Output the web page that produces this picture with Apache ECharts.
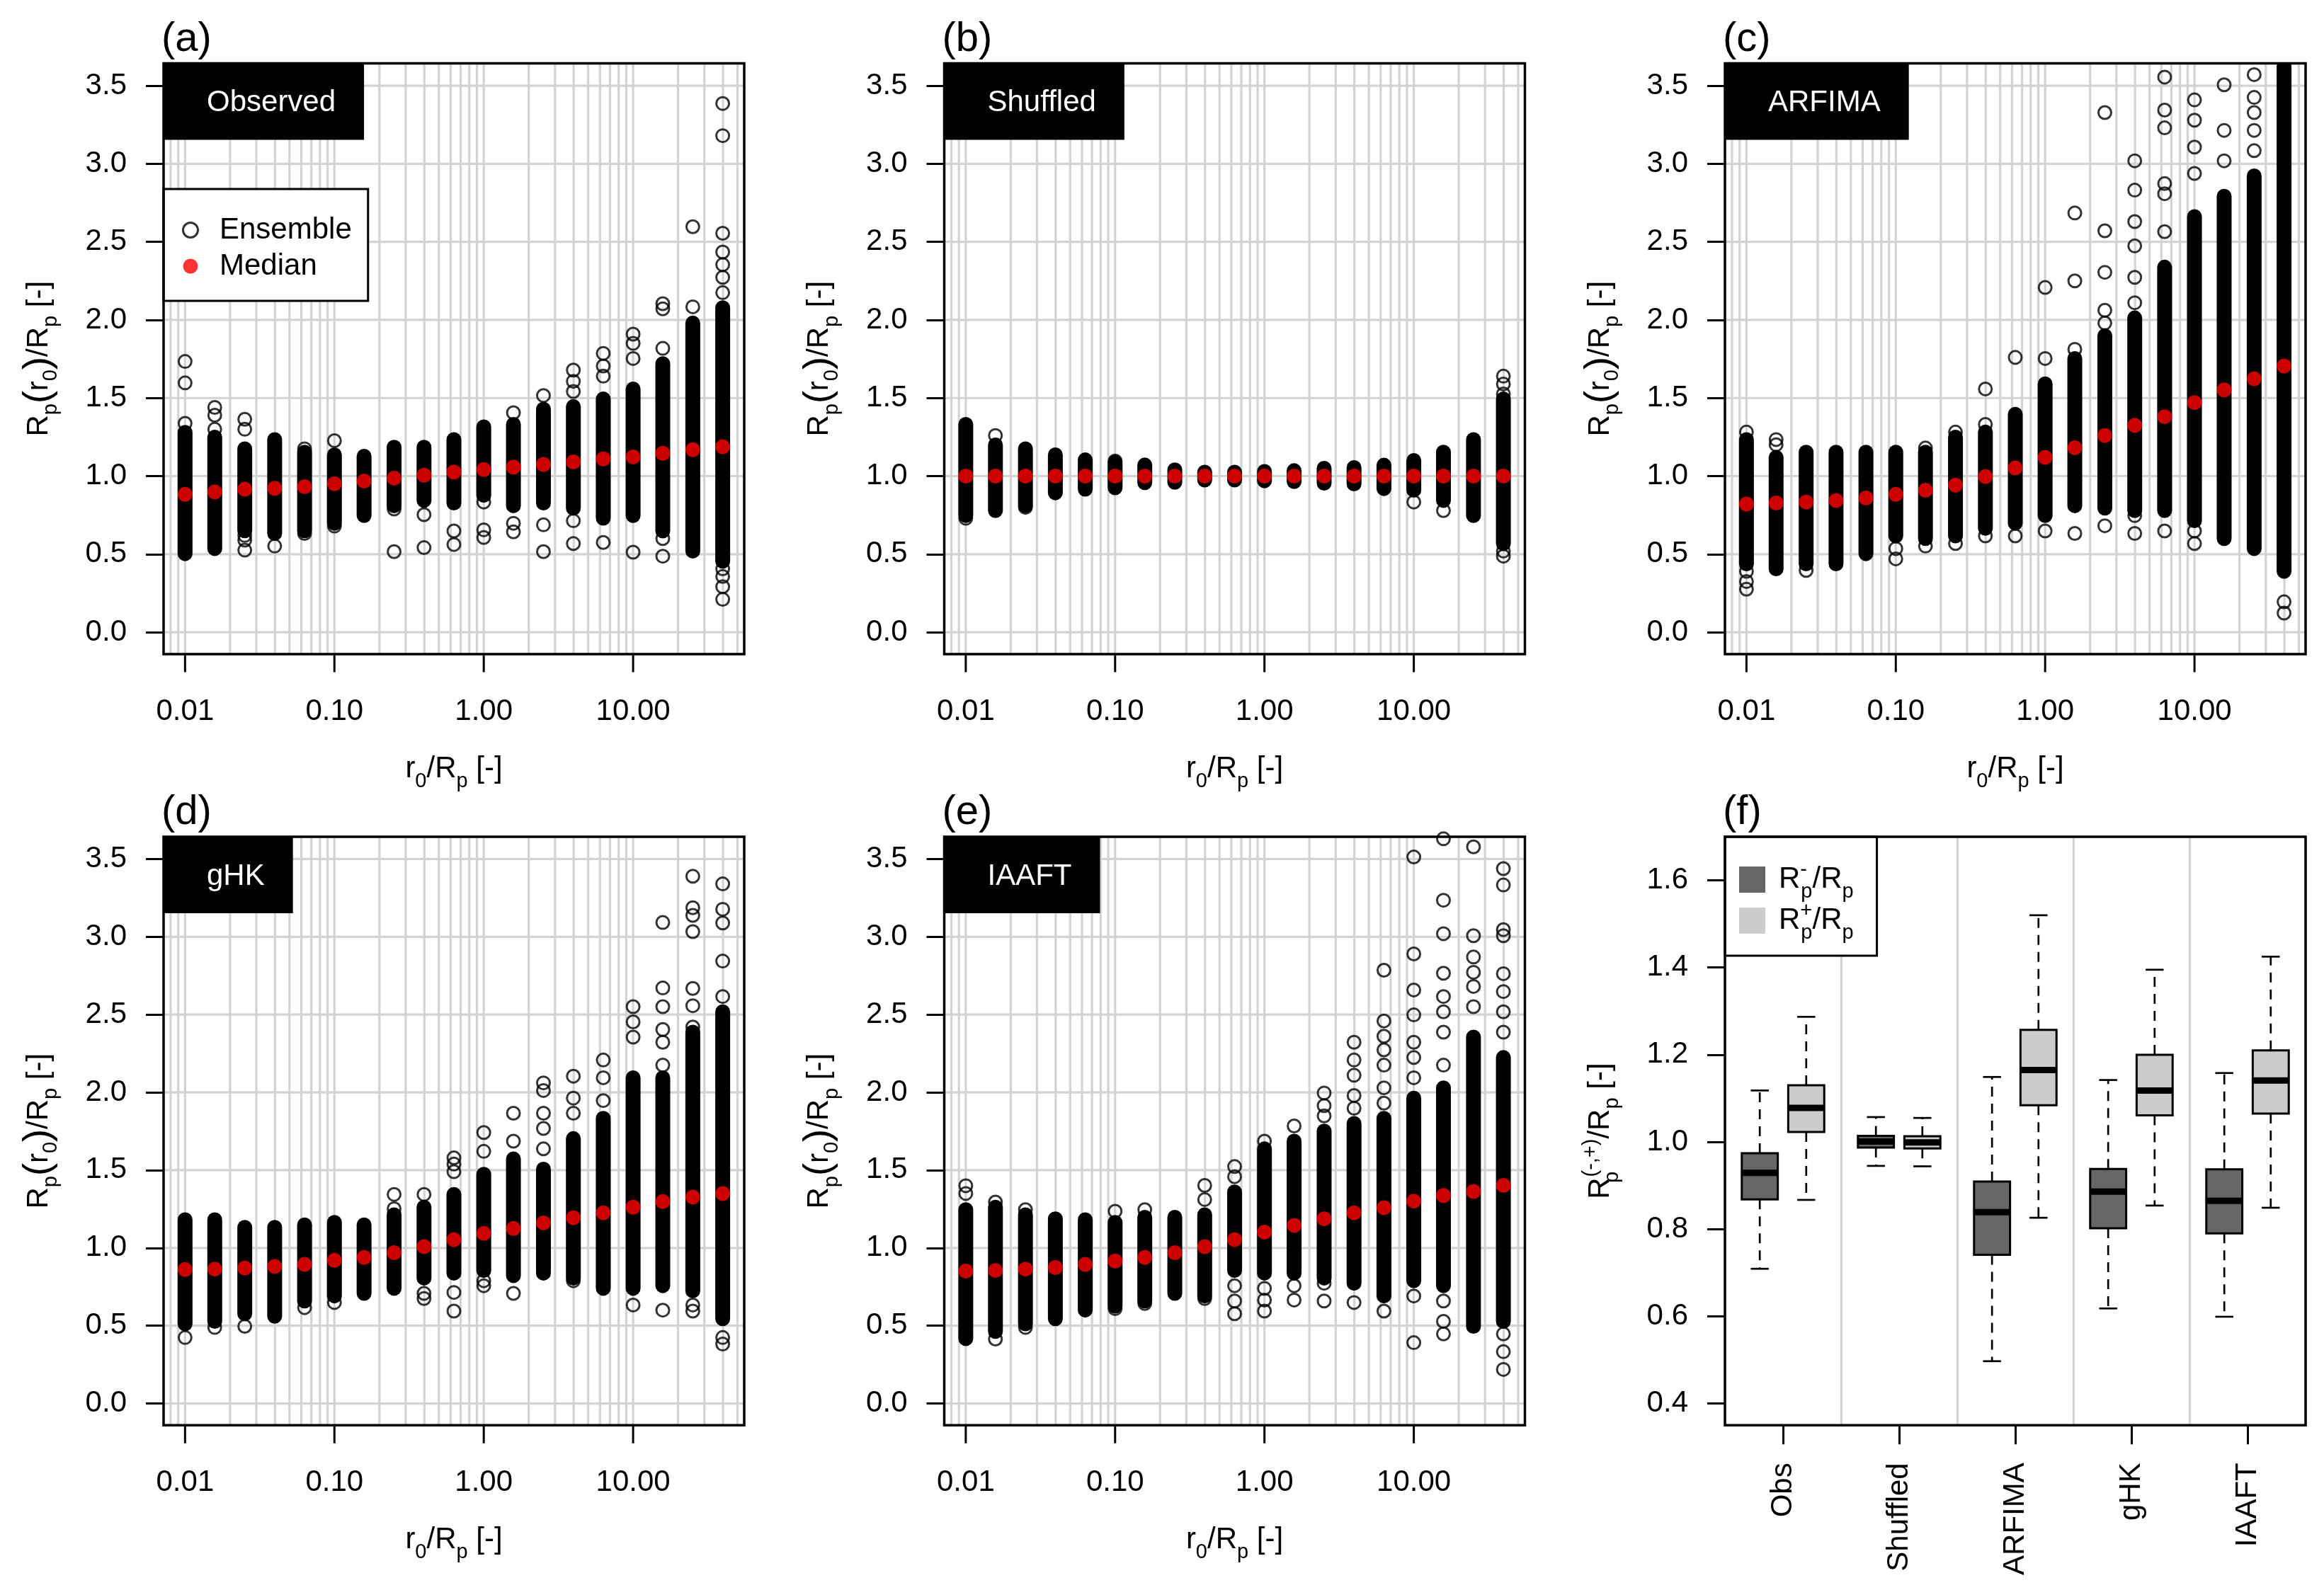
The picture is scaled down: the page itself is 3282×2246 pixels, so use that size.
<!DOCTYPE html>
<html>
<head>
<meta charset="utf-8">
<title>Rp(r0)/Rp ensembles</title>
<script src="https://cdn.jsdelivr.net/npm/echarts@6.0.0/dist/echarts.min.js"></script>
<style>
html, body { margin: 0; padding: 0; background: #fff; }
#chart { width: 3282px; height: 2246px; }
</style>
</head>
<body>
<div id="chart"></div>
<script>
// ---------------- data ----------------
const xValues = [0.01, 0.0158, 0.0251, 0.0398, 0.0631, 0.1, 0.158, 0.251, 0.398, 0.631, 1, 1.58, 2.51, 3.98, 6.31, 10, 15.8, 25.1, 39.8];
const xTickValues = [0.01, 0.1, 1, 10];
const xTickLabels = ['0.01', '0.10', '1.00', '10.00'];
const yTickValues = [0, 0.5, 1, 1.5, 2, 2.5, 3, 3.5];
const yTickLabels = ['0.0', '0.5', '1.0', '1.5', '2.0', '2.5', '3.0', '3.5'];
const gridXLines = [0.008, 0.009, 0.01, 0.02, 0.03, 0.04, 0.05, 0.06, 0.07, 0.08, 0.09, 0.1, 0.2, 0.3, 0.4, 0.5, 0.6, 0.7, 0.8, 0.9, 1, 2, 3, 4, 5, 6, 7, 8, 9, 10, 20, 30, 40, 50];
const gridYLines = [0, 0.5, 1, 1.5, 2, 2.5, 3, 3.5];
const panelTags = ['(a)', '(b)', '(c)', '(d)', '(e)', '(f)'];
const panelNames = ['Observed', 'Shuffled', 'ARFIMA', 'gHK', 'IAAFT'];

// (a) Observed: dense core range, median and isolated ensemble members per r0/Rp
const obsLow = [0.503, 0.536, 0.65, 0.633, 0.65, 0.698, 0.747, 0.81, 0.844, 0.828, 0.877, 0.81, 0.828, 0.795, 0.73, 0.747, 0.649, 0.52, 0.455];
const obsHigh = [1.28, 1.25, 1.175, 1.234, 1.153, 1.136, 1.127, 1.185, 1.185, 1.234, 1.315, 1.331, 1.429, 1.445, 1.494, 1.558, 1.72, 1.98, 2.078];
const obsMedian = [0.883, 0.899, 0.916, 0.922, 0.932, 0.951, 0.968, 0.987, 1.006, 1.026, 1.042, 1.058, 1.075, 1.091, 1.11, 1.123, 1.146, 1.169, 1.188];
const obsSparse = [[1.338, 1.597, 1.734], [1.30, 1.39, 1.44], [0.526, 0.59, 0.62, 1.30, 1.364], [0.552], [0.633, 1.175], [0.68, 1.227], [], [0.516, 0.789], [0.542, 0.753], [0.562, 0.649], [0.607, 0.656, 0.834], [0.643, 0.698, 1.406], [0.516, 0.688, 1.516], [0.568, 0.714, 1.542, 1.607, 1.679], [0.575, 1.64, 1.705, 1.786], [0.513, 1.753, 1.85, 1.909], [0.487, 0.6, 1.818, 2.071, 2.104], [2.084, 2.597], [0.211, 0.292, 0.357, 0.406, 2.175, 2.273, 2.354, 2.435, 2.555, 3.18, 3.386]];

// (b) Shuffled
const shufLow = [0.747, 0.779, 0.81, 0.893, 0.916, 0.925, 0.958, 0.96, 0.975, 0.975, 0.97, 0.965, 0.955, 0.95, 0.92, 0.91, 0.844, 0.747, 0.568];
const shufHigh = [1.331, 1.20, 1.175, 1.136, 1.104, 1.088, 1.071, 1.04, 1.025, 1.025, 1.03, 1.035, 1.05, 1.055, 1.07, 1.10, 1.153, 1.234, 1.494];
const shufMedian = [1.0, 1.0, 1.0, 1.0, 1.0, 1.0, 1.0, 1.0, 1.0, 1.0, 1.0, 1.0, 1.0, 1.0, 1.0, 1.0, 1.0, 1.0, 1.0];
const shufSparse = [[0.73], [1.26], [0.80], [], [], [1.097], [], [], [], [], [], [], [], [], [], [0.834], [0.779], [], [0.487, 0.52, 1.526, 1.59, 1.64]];

// (c) ARFIMA
const arfLow = [0.438, 0.406, 0.438, 0.438, 0.503, 0.617, 0.60, 0.617, 0.666, 0.698, 0.747, 0.81, 0.795, 0.779, 0.779, 0.714, 0.60, 0.536, 0.39];
const arfHigh = [1.234, 1.12, 1.153, 1.153, 1.153, 1.153, 1.153, 1.25, 1.282, 1.396, 1.591, 1.753, 1.899, 2.013, 2.338, 2.662, 2.792, 2.922, 3.62];
const arfMedian = [0.821, 0.828, 0.834, 0.844, 0.86, 0.883, 0.909, 0.942, 0.997, 1.052, 1.12, 1.182, 1.26, 1.325, 1.38, 1.471, 1.552, 1.623, 1.705];
const arfSparse = [[0.276, 0.325, 0.39, 1.282], [1.201, 1.234], [0.396], [], [], [0.47, 0.536], [0.552, 1.18], [0.568, 1.282], [0.617, 1.331, 1.558], [0.617, 1.76], [0.649, 1.753, 2.208], [0.633, 1.812, 2.25, 2.685], [0.682, 1.98, 2.062, 2.305, 2.571, 3.328], [0.633, 0.747, 2.11, 2.273, 2.474, 2.63, 2.831, 3.019], [0.649, 2.565, 2.808, 2.873, 3.23, 3.344, 3.555], [0.568, 0.649, 2.938, 3.107, 3.279, 3.409], [3.019, 3.214, 3.506], [3.084, 3.214, 3.328, 3.425, 3.571], [0.123, 0.195]];

// (d) gHK
const ghkLow = [0.512, 0.528, 0.577, 0.561, 0.659, 0.691, 0.708, 0.74, 0.806, 0.838, 0.855, 0.822, 0.838, 0.806, 0.74, 0.74, 0.757, 0.724, 0.545];
const ghkHigh = [1.181, 1.181, 1.132, 1.132, 1.148, 1.164, 1.148, 1.213, 1.262, 1.344, 1.474, 1.572, 1.507, 1.703, 1.833, 2.094, 2.094, 2.387, 2.518];
const ghkMedian = [0.861, 0.864, 0.871, 0.881, 0.894, 0.92, 0.939, 0.969, 1.008, 1.053, 1.093, 1.125, 1.161, 1.194, 1.226, 1.262, 1.298, 1.327, 1.35];
const ghkSparse = [[0.424], [0.489], [0.496], [], [0.616], [0.649], [], [1.252, 1.344], [0.675, 0.708, 1.344], [0.594, 0.714, 1.49, 1.539, 1.579], [0.757, 0.789, 1.621, 1.742], [0.708, 1.686, 1.866], [1.637, 1.768, 1.866, 2.012, 2.061], [0.789, 1.866, 1.963, 2.104], [1.947, 2.094, 2.208], [0.633, 2.355, 2.453, 2.551], [0.6, 2.175, 2.322, 2.404, 2.551, 2.671, 3.092], [0.594, 0.633, 2.42, 2.557, 2.668, 3.033, 3.138, 3.187, 3.389], [0.382, 0.424, 2.616, 2.844, 3.089, 3.177, 3.34]];

// (e) IAAFT
const iaaftLow = [0.417, 0.463, 0.512, 0.545, 0.6, 0.626, 0.659, 0.708, 0.691, 0.855, 0.838, 0.838, 0.806, 0.773, 0.691, 0.789, 0.757, 0.496, 0.528];
const iaaftHigh = [1.246, 1.262, 1.213, 1.187, 1.181, 1.164, 1.197, 1.197, 1.213, 1.36, 1.637, 1.686, 1.751, 1.8, 1.833, 1.963, 2.029, 2.355, 2.224];
const iaaftMedian = [0.851, 0.855, 0.864, 0.874, 0.894, 0.916, 0.939, 0.969, 1.008, 1.053, 1.102, 1.145, 1.187, 1.226, 1.259, 1.301, 1.337, 1.363, 1.402];
const iaaftSparse = [[1.35, 1.40], [0.414, 1.295], [0.489, 1.246], [], [], [0.61, 1.236], [0.643, 1.246], [], [0.675, 1.311, 1.402], [0.577, 0.659, 0.757, 1.458, 1.523], [0.594, 0.665, 0.74, 1.686], [0.665, 0.757, 1.784], [0.659, 0.773, 1.849, 1.915, 1.996], [0.649, 1.898, 1.98, 2.11, 2.208, 2.322], [0.594, 1.931, 2.029, 2.175, 2.273, 2.361, 2.459, 2.785], [0.391, 0.691, 2.094, 2.224, 2.322, 2.498, 2.658, 2.89, 3.513], [0.447, 0.528, 0.659, 2.175, 2.387, 2.518, 2.616, 2.766, 3.02, 3.235, 3.63], [2.551, 2.681, 2.772, 2.87, 3.007, 3.578], [0.219, 0.333, 0.447, 2.387, 2.518, 2.648, 2.763, 3.007, 3.046, 3.333, 3.438]];

// (f) box plots: [lower whisker, Q1, median, Q3, upper whisker]
const boxCategories = ['Obs', 'Shuffled', 'ARFIMA', 'gHK', 'IAAFT'];
const rMinusStats = [[0.709, 0.868, 0.929, 0.974, 1.118], [0.945, 0.987, 1.001, 1.014, 1.057], [0.497, 0.741, 0.839, 0.909, 1.149], [0.618, 0.802, 0.886, 0.938, 1.142], [0.599, 0.790, 0.865, 0.937, 1.158]];
const rPlusStats = [[0.867, 1.023, 1.078, 1.130, 1.287], [0.944, 0.985, 0.999, 1.013, 1.055], [0.826, 1.084, 1.165, 1.257, 1.520], [0.854, 1.061, 1.118, 1.200, 1.395], [0.849, 1.065, 1.141, 1.210, 1.425]];
const boxTickValues = [0.4, 0.6, 0.8, 1.0, 1.2, 1.4, 1.6];
const boxTickLabels = ['0.4', '0.6', '0.8', '1.0', '1.2', '1.4', '1.6'];

// ---------------- styling / layout ----------------
const FONT = '"Liberation Sans", Arial, Helvetica, sans-serif';
const FS = 42;
const GRID_COLOR = '#d3d3d3';
const POINT_OUTER = 21;
const colLeft = [231, 1333.5, 2436];
const rowTop = [89.5, 1182];
const plotW = 820;
const plotH = [834.5, 831.3];
const X_MIN = 0.007178, X_MAX = 55.46;
const Y_MIN = -0.14, Y_MAX = 3.643;

const RICH = {
  m: { fontSize: FS, lineHeight: 50, color: '#000', fontFamily: FONT },
  b: { fontSize: 54, lineHeight: 50, color: '#000', fontFamily: FONT },
  s: { fontSize: 29, lineHeight: 20, padding: [34, 0, 0, 0], color: '#000', fontFamily: FONT },
  sz: { fontSize: 29, lineHeight: 20, padding: [34, 0, 0, 0], width: 1, color: '#000', fontFamily: FONT },
  u: { fontSize: 29, lineHeight: 20, padding: [0, 0, 27, 0], color: '#000', fontFamily: FONT },
  uz: { fontSize: 29, lineHeight: 20, padding: [0, 0, 27, 0], width: 1, color: '#000', fontFamily: FONT }
};
const X_NAME = '{m|r}{s|0}{m|/R}{s|p}{m| [-]}';
const Y_NAME = '{m|R}{s|p}{b|(}{m|r}{s|0}{b|)}{m|/R}{s|p}{m| [-]}';
const F_Y_NAME = '{m|R}{sz|p}{u|(-,+)}{m|/R}{s|p}{m| [-]}';

function lookupLabel(values, labels, v) {
  for (let i = 0; i < values.length; i++) {
    if (Math.abs(values[i] - v) <= 1e-9 * Math.max(1, Math.abs(values[i]))) return labels[i];
  }
  if (v > 0) {
    for (let i = 0; i < values.length; i++) {
      if (Math.abs(Math.log10(values[i]) - Math.log10(v)) < 1e-6) return labels[i];
    }
  }
  return '';
}

const scatterPanels = [
  { low: obsLow, high: obsHigh, median: obsMedian, sparse: obsSparse, ens: 'Ensemble', med: 'Median' },
  { low: shufLow, high: shufHigh, median: shufMedian, sparse: shufSparse, ens: 'Ensemble (b)', med: 'Median (b)' },
  { low: arfLow, high: arfHigh, median: arfMedian, sparse: arfSparse, ens: 'Ensemble (c)', med: 'Median (c)' },
  { low: ghkLow, high: ghkHigh, median: ghkMedian, sparse: ghkSparse, ens: 'Ensemble (d)', med: 'Median (d)' },
  { low: iaaftLow, high: iaaftHigh, median: iaaftMedian, sparse: iaaftSparse, ens: 'Ensemble (e)', med: 'Median (e)' }
];

const tickLine = { color: '#000', width: 3 };
const grids = [], xAxes = [], yAxes = [], series = [], titles = [], graphics = [];

function vLineRender(params, api) {
  const x = api.coord([api.value(0), api.value(1)])[0];
  const cs = params.coordSys;
  return { type: 'line', silent: true, shape: { x1: x, y1: cs.y, x2: x, y2: cs.y + cs.height }, style: { stroke: GRID_COLOR, lineWidth: 3.2 } };
}
function hLineRender(params, api) {
  const y = api.coord([api.value(0), api.value(1)])[1];
  const cs = params.coordSys;
  return { type: 'line', silent: true, shape: { x1: cs.x, y1: y, x2: cs.x + cs.width, y2: y }, style: { stroke: GRID_COLOR, lineWidth: 3.2 } };
}
// x-axis tick marks, placed through the log axis, hanging below the plot frame
function xTickRender(params, api) {
  const x = api.coord([api.value(0), api.value(1)])[0];
  const cs = params.coordSys;
  const y0 = cs.y + cs.height + 1.5;
  return { type: 'line', silent: true, shape: { x1: x, y1: y0, x2: x, y2: y0 + 24 }, style: { stroke: '#000', lineWidth: 3 } };
}
function denseRender(params, api) {
  const x = api.value(0);
  const pLo = api.coord([x, api.value(1)]);
  const pHi = api.coord([x, api.value(2)]);
  const r = POINT_OUTER / 2;
  return { type: 'rect', silent: true, shape: { x: pLo[0] - r, y: pHi[1] - r, width: 2 * r, height: pLo[1] - pHi[1] + 2 * r, r: r }, style: { fill: '#000' } };
}

scatterPanels.forEach(function (p, i) {
  const row = Math.floor(i / 3), col = i % 3;
  const left = colLeft[col], top = rowTop[row], h = plotH[row];
  grids.push({ left: left, top: top, width: plotW, height: h, show: false, containLabel: false, outerBoundsMode: 'none' });
  xAxes.push({
    gridIndex: i, type: 'log', logBase: 10, min: X_MIN, max: X_MAX, offset: 1.5, position: 'bottom',
    axisLine: { show: false, onZero: false }, splitLine: { show: false }, minorTick: { show: false }, minorSplitLine: { show: false },
    axisTick: { show: false },
    axisLabel: { customValues: xTickValues, formatter: function (v) { return lookupLabel(xTickValues, xTickLabels, v); }, fontSize: FS, color: '#000', fontFamily: FONT, margin: 59, lineHeight: 42 },
    name: X_NAME, nameLocation: 'middle', nameGap: 136, nameMoveOverlap: false,
    nameTextStyle: { rich: RICH, fontSize: FS, color: '#000', fontFamily: FONT }
  });
  yAxes.push({
    gridIndex: i, type: 'value', min: Y_MIN, max: Y_MAX, offset: 0, position: 'left',
    axisLine: { show: false, onZero: false }, splitLine: { show: false },
    axisTick: { show: true, customValues: yTickValues, length: 25, lineStyle: tickLine },
    axisLabel: { customValues: yTickValues, formatter: function (v) { return lookupLabel(yTickValues, yTickLabels, v); }, fontSize: FS, color: '#000', fontFamily: FONT, margin: 52 },
    name: Y_NAME, nameLocation: 'middle', nameGap: 151, nameRotate: 90, nameMoveOverlap: false,
    nameTextStyle: { rich: RICH, fontSize: FS, color: '#000', fontFamily: FONT }
  });
  series.push({
    type: 'custom', name: 'vgrid' + i, xAxisIndex: i, yAxisIndex: i, z: 1, silent: true,
    data: gridXLines.map(function (v) { return [v, 1]; }), encode: { x: 0, y: 1 }, renderItem: vLineRender
  });
  series.push({
    type: 'custom', name: 'hgrid' + i, xAxisIndex: i, yAxisIndex: i, z: 1, silent: true,
    data: gridYLines.map(function (v) { return [1, v]; }), encode: { x: 0, y: 1 }, renderItem: hLineRender
  });
  series.push({
    type: 'custom', name: 'xticks' + i, xAxisIndex: i, yAxisIndex: i, z: 1, silent: true, clip: false,
    data: xTickValues.map(function (v) { return [v, 1]; }), encode: { x: 0, y: 1 }, renderItem: xTickRender
  });
  series.push({
    type: 'custom', name: p.ens + ' core', xAxisIndex: i, yAxisIndex: i, z: 2, silent: true, clip: true,
    data: xValues.map(function (x, j) { return [x, p.low[j], p.high[j]]; }), encode: { x: 0, y: [1, 2] }, renderItem: denseRender
  });
  const sparsePts = [];
  xValues.forEach(function (x, j) { p.sparse[j].forEach(function (v) { sparsePts.push([x, v]); }); });
  series.push({
    type: 'scatter', name: p.ens, xAxisIndex: i, yAxisIndex: i, z: 3, silent: true, clip: true,
    symbol: 'circle', symbolSize: POINT_OUTER - 3,
    itemStyle: { color: 'rgba(0,0,0,0)', borderColor: '#000', borderWidth: 3 },
    data: sparsePts
  });
  series.push({
    type: 'scatter', name: p.med, xAxisIndex: i, yAxisIndex: i, z: 4, silent: true,
    symbol: 'circle', symbolSize: POINT_OUTER,
    itemStyle: { color: '#ff0000', borderWidth: 0 },
    data: xValues.map(function (x, j) { return [x, p.median[j]]; })
  });
  titles.push({
    text: panelNames[i], left: left, top: top, backgroundColor: '#000', padding: [31, 40, 27, 61],
    textStyle: { color: '#fff', fontSize: FS, fontWeight: 'normal', fontFamily: FONT, lineHeight: 50 }, z: 8
  });
});

// ---- panel (f) ----
const fi = 5;
grids.push({ left: colLeft[2], top: rowTop[1], width: plotW, height: plotH[1], show: false, containLabel: false, outerBoundsMode: 'none' });
xAxes.push({
  gridIndex: fi, type: 'category', data: boxCategories, boundaryGap: true, offset: 0, position: 'bottom',
  axisLine: { show: false, onZero: false },
  axisTick: { show: true, alignWithLabel: true, length: 27, lineStyle: tickLine },
  axisLabel: { rotate: 90, fontSize: FS, color: '#000', fontFamily: FONT, margin: 53, interval: 0 },
  splitLine: { show: true, lineStyle: { color: GRID_COLOR, width: 3.2 } }
});
yAxes.push({
  gridIndex: fi, type: 'value', min: 0.35, max: 1.70, offset: 0, position: 'left',
  axisLine: { show: false, onZero: false }, splitLine: { show: false },
  axisTick: { show: true, customValues: boxTickValues, length: 25, lineStyle: tickLine },
  axisLabel: { customValues: boxTickValues, formatter: function (v) { return lookupLabel(boxTickValues, boxTickLabels, v); }, fontSize: FS, color: '#000', fontFamily: FONT, margin: 52 },
  name: F_Y_NAME, nameLocation: 'middle', nameGap: 151, nameRotate: 90, nameMoveOverlap: false,
  nameTextStyle: { rich: RICH, fontSize: FS, color: '#000', fontFamily: FONT }
});
function boxRender(offsetFrac, fill) {
  return function (params, api) {
    const i = api.value(0);
    const band = api.size([1, 0])[0];
    const cx = api.coord([i, 1])[0] + offsetFrac * band;
    const w = 0.31 * band;
    const yLow = api.coord([i, api.value(1)])[1];
    const yQ1 = api.coord([i, api.value(2)])[1];
    const yMed = api.coord([i, api.value(3)])[1];
    const yQ3 = api.coord([i, api.value(4)])[1];
    const yHigh = api.coord([i, api.value(5)])[1];
    const cap = w / 2;
    const dash = { stroke: '#000', lineWidth: 2.7, lineDash: [14, 10] };
    const solid = { stroke: '#000', lineWidth: 2.7 };
    return {
      type: 'group', silent: true, children: [
        { type: 'line', shape: { x1: cx, y1: yQ3, x2: cx, y2: yHigh }, style: dash },
        { type: 'line', shape: { x1: cx, y1: yQ1, x2: cx, y2: yLow }, style: dash },
        { type: 'line', shape: { x1: cx - cap / 2, y1: yHigh, x2: cx + cap / 2, y2: yHigh }, style: solid },
        { type: 'line', shape: { x1: cx - cap / 2, y1: yLow, x2: cx + cap / 2, y2: yLow }, style: solid },
        { type: 'rect', shape: { x: cx - w / 2, y: yQ3, width: w, height: yQ1 - yQ3 }, style: { fill: fill, stroke: '#000', lineWidth: 3 } },
        { type: 'line', shape: { x1: cx - w / 2 + 1, y1: yMed, x2: cx + w / 2 - 1, y2: yMed }, style: { stroke: '#000', lineWidth: 9 } }
      ]
    };
  };
}
series.push({
  type: 'custom', name: 'Rminus', xAxisIndex: fi, yAxisIndex: fi, z: 3, silent: true,
  itemStyle: { color: '#666666' },
  data: rMinusStats.map(function (s, i) { return [i].concat(s); }), encode: { x: 0, y: [1, 2, 3, 4, 5] },
  renderItem: boxRender(-0.2, '#666666')
});
series.push({
  type: 'custom', name: 'Rplus', xAxisIndex: fi, yAxisIndex: fi, z: 3, silent: true,
  itemStyle: { color: '#cccccc' },
  data: rPlusStats.map(function (s, i) { return [i].concat(s); }), encode: { x: 0, y: [1, 2, 3, 4, 5] },
  renderItem: boxRender(0.2, '#cccccc')
});

panelTags.forEach(function (t, i) {
  const row = Math.floor(i / 3), col = i % 3;
  titles.push({
    text: t, left: colLeft[col] - 3, top: rowTop[row] - 63, padding: 0,
    textStyle: { color: '#000', fontSize: 58, fontWeight: 'normal', fontFamily: FONT }
  });
});

for (let i = 0; i < 6; i++) {
  const row = Math.floor(i / 3), col = i % 3;
  graphics.push({
    type: 'rect', silent: true, z: 100,
    shape: { x: colLeft[col], y: rowTop[row], width: plotW, height: plotH[row] },
    style: { fill: 'none', stroke: '#000', lineWidth: 3.5 }
  });
}

const option = {
  backgroundColor: '#ffffff',
  animation: false,
  textStyle: { fontFamily: FONT },
  title: titles,
  legend: [
    {
      data: [
        { name: 'Ensemble', icon: 'circle', itemStyle: { color: 'rgba(0,0,0,0)', borderColor: '#000', borderWidth: 3 } },
        { name: 'Median', icon: 'circle', itemStyle: { color: '#ff0000', borderWidth: 0 } }
      ],
      left: 231, top: 267, orient: 'vertical', selectedMode: false,
      backgroundColor: '#fff', borderColor: '#000', borderWidth: 3,
      padding: [36, 23, 27, 26], itemWidth: 72, itemHeight: 21, itemGap: 7, z: 9,
      textStyle: { fontSize: FS, color: '#000', fontFamily: FONT, lineHeight: 44 }
    },
    {
      data: [
        { name: 'Rminus', icon: 'rect', itemStyle: { color: '#666666', borderWidth: 0 } },
        { name: 'Rplus', icon: 'rect', itemStyle: { color: '#cccccc', borderWidth: 0 } }
      ],
      left: 2436, top: 1182, orient: 'vertical', selectedMode: false,
      backgroundColor: '#fff', borderColor: '#000', borderWidth: 3,
      padding: [29, 33, 18, 20], itemWidth: 37, itemHeight: 37, itemGap: -5, z: 9,
      formatter: function (name) {
        return name === 'Rminus' ? '{m|R}{uz|-}{s|p}{m|/R}{s|p}' : '{m|R}{uz|+}{s|p}{m|/R}{s|p}';
      },
      textStyle: { fontSize: FS, color: '#000', fontFamily: FONT, padding: [0, 0, 0, 14], rich: RICH }
    }
  ],
  grid: grids,
  xAxis: xAxes,
  yAxis: yAxes,
  series: series,
  graphic: graphics
};

const chart = echarts.init(document.getElementById('chart'), null, { renderer: 'canvas', width: 3282, height: 2246 });
chart.setOption(option);
</script>
</body>
</html>
